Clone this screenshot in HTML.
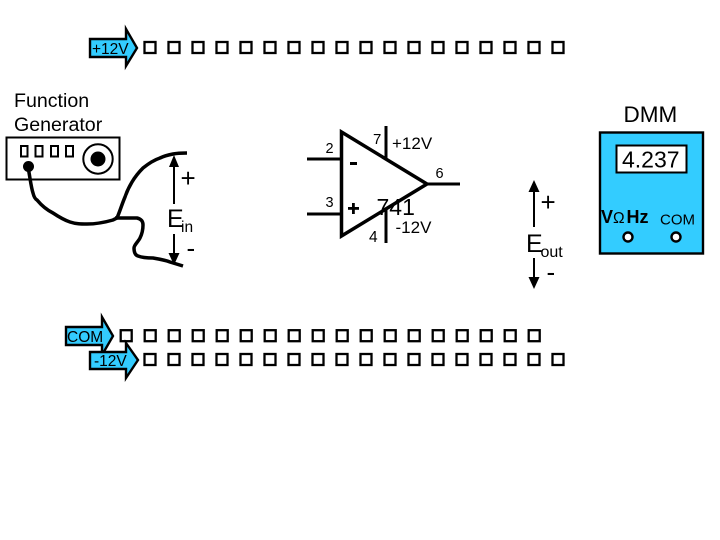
<!DOCTYPE html>
<html>
<head>
<meta charset="utf-8">
<style>
html,body{margin:0;padding:0;background:#fff;width:720px;height:540px;overflow:hidden}
svg{display:block}
text{font-family:"Liberation Sans",sans-serif;fill:#000}
</style>
</head>
<body>
<svg width="720" height="540" viewBox="0 0 720 540" xmlns="http://www.w3.org/2000/svg">
<defs>
<g id="s"><rect x="0" y="0" width="11" height="11" fill="#fff" stroke="#000" stroke-width="2.300"/></g>
</defs>
<rect width="720" height="540" fill="#fff"/>

<!-- top row -->
<g transform="translate(144.500,42)">
<use href="#s" x="0"/><use href="#s" x="24"/><use href="#s" x="48"/><use href="#s" x="72"/><use href="#s" x="96"/><use href="#s" x="120"/><use href="#s" x="144"/><use href="#s" x="168"/><use href="#s" x="192"/><use href="#s" x="216"/><use href="#s" x="240"/><use href="#s" x="264"/><use href="#s" x="288"/><use href="#s" x="312"/><use href="#s" x="336"/><use href="#s" x="360"/><use href="#s" x="384"/><use href="#s" x="408"/>
</g>
<!-- COM row -->
<g transform="translate(120.700,330.200)">
<use href="#s" x="0"/><use href="#s" x="24"/><use href="#s" x="48"/><use href="#s" x="72"/><use href="#s" x="96"/><use href="#s" x="120"/><use href="#s" x="144"/><use href="#s" x="168"/><use href="#s" x="192"/><use href="#s" x="216"/><use href="#s" x="240"/><use href="#s" x="264"/><use href="#s" x="288"/><use href="#s" x="312"/><use href="#s" x="336"/><use href="#s" x="360"/><use href="#s" x="384"/><use href="#s" x="408"/>
</g>
<!-- -12V row -->
<g transform="translate(144.500,354)">
<use href="#s" x="0"/><use href="#s" x="24"/><use href="#s" x="48"/><use href="#s" x="72"/><use href="#s" x="96"/><use href="#s" x="120"/><use href="#s" x="144"/><use href="#s" x="168"/><use href="#s" x="192"/><use href="#s" x="216"/><use href="#s" x="240"/><use href="#s" x="264"/><use href="#s" x="288"/><use href="#s" x="312"/><use href="#s" x="336"/><use href="#s" x="360"/><use href="#s" x="384"/><use href="#s" x="408"/>
</g>

<!-- power arrows -->
<polygon points="90,39 126,39 126,29 137,48 126,66 126,57 90,57" fill="#33ccff" stroke="#000" stroke-width="2.400"/>
<text x="92" y="54" font-size="15.500">+12V</text>
<polygon points="66,327 102,327 102,317 113,336 102,355 102,345 66,345" fill="#33ccff" stroke="#000" stroke-width="2.400"/>
<text x="67" y="342" font-size="15.500">COM</text>
<polygon points="90,352 126,352 126,343 138,360 126,378 126,369 90,369" fill="#33ccff" stroke="#000" stroke-width="2.400"/>
<text x="94" y="366" font-size="15.500">-12V</text>

<!-- Function generator -->
<text x="14" y="107" font-size="19.600">Function</text>
<text x="14" y="131" font-size="19.600">Generator</text>
<rect x="6.500" y="137.500" width="113" height="42" fill="#fff" stroke="#000" stroke-width="2"/>
<rect x="21" y="146" width="6.500" height="10.500" fill="#fff" stroke="#000" stroke-width="2"/>
<rect x="35.500" y="146" width="7" height="10.500" fill="#fff" stroke="#000" stroke-width="2"/>
<rect x="51" y="146" width="7" height="10.500" fill="#fff" stroke="#000" stroke-width="2"/>
<rect x="66" y="146" width="7" height="10.500" fill="#fff" stroke="#000" stroke-width="2"/>
<circle cx="98" cy="159" r="14.700" fill="#fff" stroke="#000" stroke-width="2"/>
<circle cx="98" cy="159" r="7.500" fill="#000"/>
<circle cx="28.500" cy="166.500" r="5.500" fill="#000"/>

<!-- wires -->
<path d="M28,167 C30,177 31,187 33,193 C34,197 35,199 37,200 C42,206 47,210 53,213 C59,217 64,220 70,222 C76,224 81,224 87,224 C96,224 106,222 113,220 L117,218 C120,211 122,204 125,197 C127,191 129,187 132,182 C135,177 139,172 143,168 C148,164 154,160 160,158 C164,156 168,155 173,154 C178,153 182,153 187,153" fill="none" stroke="#000" stroke-width="3.500"/>
<path d="M115,218 L137,218 C141,219 143,221 143,225 C143,230 142,234 140,238 C138,242 134,245 134,248 C134,252 135,255 138,256 C143,258 148,258 153,258 C159,259 165,260 170,262 L183,266" fill="none" stroke="#000" stroke-width="3.500"/>

<!-- Ein -->
<line x1="174" y1="162" x2="174" y2="204" stroke="#000" stroke-width="2"/>
<polygon points="174,155 169,167 179,167" fill="#000"/>
<line x1="174" y1="234" x2="174" y2="258" stroke="#000" stroke-width="2"/>
<polygon points="174,265 168.500,253 179.500,253" fill="#000"/>
<text x="180.500" y="187" font-size="26">+</text>
<text x="167" y="227" font-size="25">E</text>
<text x="181" y="232" font-size="15.500">in</text>
<text x="186.500" y="257" font-size="26">-</text>

<!-- Op amp -->
<line x1="307" y1="159" x2="341" y2="159" stroke="#000" stroke-width="3"/>
<line x1="307" y1="214" x2="341" y2="214" stroke="#000" stroke-width="3"/>
<line x1="427" y1="184" x2="460" y2="184" stroke="#000" stroke-width="3"/>
<line x1="386" y1="126" x2="386" y2="158" stroke="#000" stroke-width="3"/>
<line x1="386" y1="210" x2="386" y2="243" stroke="#000" stroke-width="3"/>
<polygon points="341.500,132 427,184 341.500,236" fill="none" stroke="#000" stroke-width="3.500"/>
<text x="325.500" y="153" font-size="14.500">2</text>
<text x="325.500" y="207" font-size="14.500">3</text>
<text x="373" y="144" font-size="15">7</text>
<text x="369" y="242" font-size="15.500">4</text>
<text x="435.500" y="178" font-size="14.500">6</text>
<text x="392" y="149" font-size="17">+12V</text>
<text x="395.500" y="233" font-size="17">-12V</text>
<text x="376.500" y="215" font-size="23">741</text>
<rect x="350" y="162" width="7" height="3" fill="#000"/>
<rect x="348" y="207" width="11" height="2.800" fill="#000"/>
<rect x="352" y="203" width="2.800" height="11" fill="#000"/>

<!-- Eout -->
<line x1="534" y1="188" x2="534" y2="227" stroke="#000" stroke-width="2"/>
<polygon points="534,180 528.500,192 539.500,192" fill="#000"/>
<line x1="534" y1="258" x2="534" y2="282" stroke="#000" stroke-width="2"/>
<polygon points="534,289 528.500,277 539.500,277" fill="#000"/>
<text x="540.500" y="211" font-size="26">+</text>
<text x="526" y="252" font-size="25">E</text>
<text x="540.500" y="257" font-size="16">out</text>
<text x="546.500" y="281" font-size="26">-</text>

<!-- DMM -->
<text x="623.500" y="122" font-size="22.500">DMM</text>
<rect x="600" y="132.500" width="103" height="121" fill="#33ccff" stroke="#000" stroke-width="2.400"/>
<rect x="616.500" y="145.500" width="70" height="27" fill="#fff" stroke="#000" stroke-width="2"/>
<text x="622" y="167.500" font-size="23">4.237</text>
<text x="601" y="223" font-size="18" font-weight="bold">V</text>
<text x="613" y="223" font-size="15.500">Ω</text>
<text x="626.500" y="223" font-size="18" font-weight="bold">Hz</text>
<text x="660" y="224.500" font-size="15">COM</text>
<circle cx="628" cy="237" r="4.500" fill="#fff" stroke="#000" stroke-width="2.400"/>
<circle cx="676" cy="237" r="4.500" fill="#fff" stroke="#000" stroke-width="2.400"/>
</svg>
</body>
</html>
